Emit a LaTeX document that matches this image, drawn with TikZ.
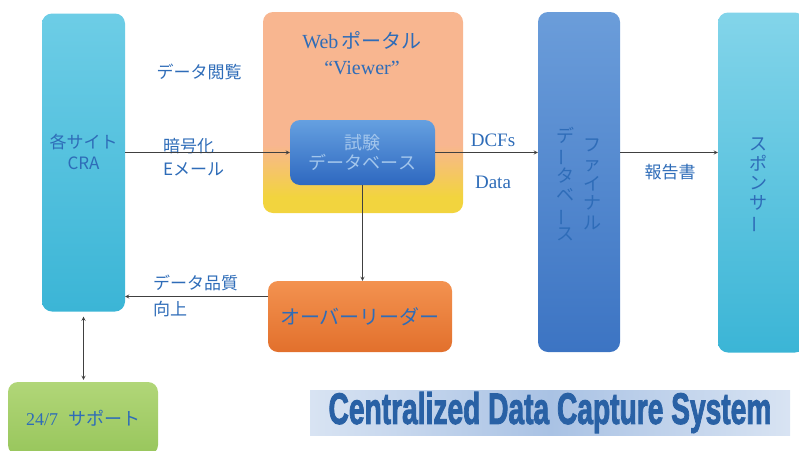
\documentclass[tikz,border=0pt]{standalone}
\usepackage{fontspec}
\setmainfont{Liberation Serif}
\newfontfamily\jp{Noto Sans CJK JP}
\newfontfamily\heavy[BoldFeatures={FakeBold=2.5}]{Liberation Sans}
\usetikzlibrary{arrows,calc,positioning}
\definecolor{txtblue}{HTML}{2E6CB8}
\definecolor{craTop}{HTML}{6DCDE6}
\definecolor{craBot}{HTML}{3BB5D6}
\definecolor{finTop}{HTML}{6B9DDA}
\definecolor{finBot}{HTML}{3C74C3}
\definecolor{dbTop}{HTML}{65A0E0}
\definecolor{dbBot}{HTML}{2E68C0}
\definecolor{ovrTop}{HTML}{F39250}
\definecolor{ovrBot}{HTML}{E2702C}
\definecolor{supTop}{HTML}{B1D678}
\definecolor{supBot}{HTML}{98C65C}
\definecolor{peach}{HTML}{F8B690}
\definecolor{yel}{HTML}{F2D43E}
\definecolor{bannerC}{HTML}{A9C2E4}
\pgfdeclareverticalshading{portal}{100bp}{color(0bp)=(yel); color(29bp)=(yel);
                                           color(42bp)=(peach); color(100bp)=(peach)}
\tikzset{%
box/.style={rounded corners=10pt, inner sep=0pt, align=center, text=txtblue,
            font=\jp\fontsize{18}{21}\selectfont},
lbl/.style={text=txtblue, align=left, inner sep=0pt, font=\jp\fontsize{17}{26}\selectfont},
vlbl/.style={text=txtblue, align=center, inner sep=0pt, font=\jp\fontsize{18}{19.5}\selectfont},
flow/.style={draw=black!75, line width=0.8pt, -stealth},
twoway/.style={draw=black!75, line width=0.8pt, stealth-stealth, shorten <=5pt, shorten >=2pt}
}
\newcommand{\vbar}{\rotatebox[origin=c]{90}{ー}}

\begin{document}
\begin{tikzpicture}[x=1pt,y=-1pt]
\useasboundingbox (0,0) rectangle (799,450);
\clip (0,0) rectangle (799,450);

\node[box,minimum width=83pt,minimum height=298pt,
      top color=craTop,bottom color=craBot]          (cra)  at (83.5,162.5)  {};
\node[box,minimum width=200pt,minimum height=201pt,
      shading=portal]                                (web)  at (363,112.5)   {};
\node[box,minimum width=145pt,minimum height=65pt,
      top color=dbTop,bottom color=dbBot,text=dbTop!60!white] (db) at (362.5,152.5)
                                                     {試験\\[-1pt]データベース};
\node[box,minimum width=82pt,minimum height=340pt,
      top color=finTop,bottom color=finBot]          (fin)  at (579,182)     {};
\node[box,minimum width=87pt,minimum height=340pt,
      top color=craTop!85!white,bottom color=craBot] (spo)  at (761.5,182.5) {};
\node[box,minimum width=184pt,minimum height=71pt,
      top color=ovrTop,bottom color=ovrBot,
      font=\jp\fontsize{20}{22}\selectfont]         (ovr)  at (360,316.5)   {オーバーリーダー};
\node[box,minimum width=150pt,minimum height=73pt,
      top color=supTop,bottom color=supBot]          (sup)  at (83,418.5)    {{\rmfamily 24/7}\hspace{10pt}サポート};
\node[minimum width=480pt,minimum height=45pt,inner sep=0pt,
      left color=bannerC!45!white,right color=bannerC!45!white,middle color=bannerC,
      text=txtblue!90!black,font=\heavy\bfseries\fontsize{44}{44}\selectfont]
                                                     (ban)  at (550,412.5)
                                                     {\scalebox{0.64}[1]{Centralized Data Capture System}};

\node[lbl,align=center]                  (craT)  at ([yshift=11pt]cra.center) {各サイト\\[-5pt]CRA};
\node[lbl,align=center,font=\fontsize{20}{26}\selectfont]
                                         (webT)  at (362,53)   {Web\,{\jp ポータル}\\“Viewer”};
\node[lbl]                               (view)  at (199,72)   {データ閲覧};
\node[lbl,anchor=west,font=\jp\fontsize{17}{23}\selectfont]
                                         (enc)   at (163,157)  {暗号化\\Eメール};
\node[lbl,font=\fontsize{19}{22}\selectfont] (dcf)   at (493,140)  {DCFs};
\node[lbl,font=\fontsize{19}{22}\selectfont] (dat)   at (493,182)  {Data};
\node[lbl]                               (rep)   at (670,172)  {報告書};
\node[lbl,anchor=west]                   (dq)    at (153,296)  {データ品質\\向上};
\node[vlbl]                              (finA)  at (592,184)  {フ\\ァ\\イ\\ナ\\ル};
\node[vlbl]                              (finB)  at (565,184)  {デ\\\vbar\\タ\\ベ\\\vbar\\ス};
\node[vlbl]                              (spoT)  at (758,186)  {ス\\ポ\\ン\\サ\\\vbar};

\coordinate (qout) at ([yshift=20pt]ovr.west);
\foreach \a/\b in {cra.east |- db.west/db.west,
                   db.east/db.east -| fin.west,
                   fin.east |- db.east/spo.west |- db.east,
                   db.south/db.south |- ovr.north,
                   qout/qout -| cra.east}
{
  \draw[flow] (\a) -- (\b);
}
\draw[twoway] (cra.south) -- (cra.south |- sup.north);
\end{tikzpicture}
\end{document}
